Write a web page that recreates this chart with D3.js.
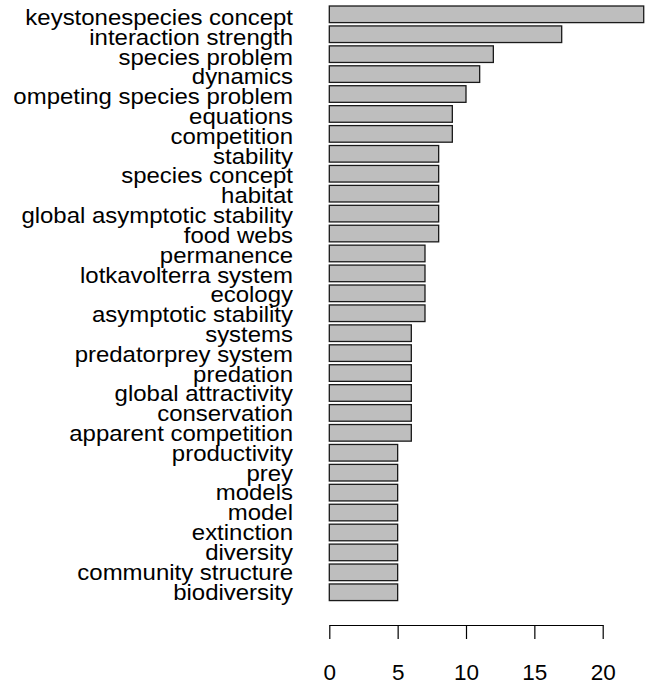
<!DOCTYPE html>
<html><head><meta charset="utf-8">
<script src="https://cdn.jsdelivr.net/npm/d3@7"></script>
<style>body{margin:0;background:#fff}svg{display:block}</style>
</head><body>
<script>
const categories = ["keystonespecies concept","interaction strength","species problem","dynamics","competing species problem","equations","competition","stability","species concept","habitat","global asymptotic stability","food webs","permanence","lotkavolterra system","ecology","asymptotic stability","systems","predatorprey system","predation","global attractivity","conservation","apparent competition","productivity","prey","models","model","extinction","diversity","community structure","biodiversity"];
const values = [23,17,12,11,10,9,9,8,8,8,8,8,7,7,7,7,6,6,6,6,6,6,5,5,5,5,5,5,5,5];
const tickValues = [0,5,10,15,20];

const W = 656, H = 686;
const svg = d3.select("body").append("svg").attr("width", W).attr("height", H);
const font = "'Liberation Sans', Arial, sans-serif";

svg.append("defs").append("clipPath").attr("id", "lblclip")
  .append("rect").attr("x", 14).attr("y", 0).attr("width", 320).attr("height", 620);

const x = d3.scaleLinear().domain([0, 20]).range([329.3, 602.7]);
const step = 19.93;
const y = d3.scaleBand().domain(categories)
  .range([6 - step/12, 6 - step/12 + 30*step])
  .paddingInner(1/6).paddingOuter(1/12);
const labelY = d3.scaleLinear().domain([0, categories.length - 1]).range([25, 599.5]);

svg.append("g").selectAll("rect").data(categories).join("rect")
  .attr("x", x(0))
  .attr("y", d => y(d))
  .attr("width", (d,i) => x(values[i]) - x(0))
  .attr("height", y.bandwidth())
  .attr("fill", "#bebebe")
  .attr("stroke", "#1a1a1a")
  .attr("stroke-width", 1.3);

svg.append("g").attr("clip-path", "url(#lblclip)")
  .selectAll("text").data(categories).join("text")
  .attr("transform", (d,i) => `translate(293,${labelY(i)}) scale(1.065,1)`)
  .attr("text-anchor", "end")
  .attr("font-family", font)
  .attr("font-size", 22.5)
  .attr("fill", "#000")
  .text(d => d);

const axis = d3.axisBottom(x).tickValues(tickValues).tickSize(14).tickSizeOuter(0).tickPadding(24);
const g = svg.append("g").attr("transform", "translate(0,625)").call(axis);
g.select(".domain").attr("stroke", "#000").attr("stroke-width", 1.2);
g.selectAll(".tick line").attr("stroke", "#000").attr("stroke-width", 1.2);
g.selectAll(".tick text").attr("font-family", font).attr("font-size", 22.5).attr("fill", "#000")
  .attr("dy", null).attr("y", 55);
</script>
</body></html>
